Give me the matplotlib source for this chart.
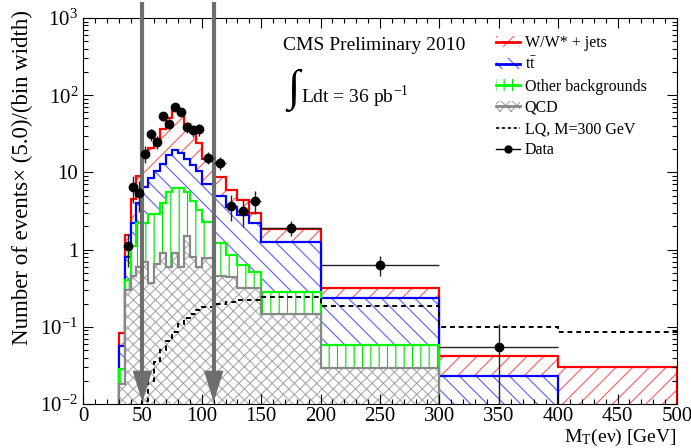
import numpy as np
import matplotlib
matplotlib.use("Agg")
import matplotlib.pyplot as plt
from matplotlib.patches import Patch
from matplotlib.lines import Line2D
from matplotlib.legend_handler import HandlerTuple
from matplotlib.ticker import MultipleLocator, LogLocator, FuncFormatter, NullFormatter

plt.rcParams['font.family'] = ['Liberation Serif', 'DejaVu Serif']
plt.rcParams['mathtext.fontset'] = 'stix'
plt.rcParams['hatch.linewidth'] = 0.8

# bin edges of the MT histogram [GeV]
edges = np.array([30, 35, 40, 45, 50, 55, 60, 65, 70, 75, 80, 85, 90, 95,
                  100, 110, 120, 130, 140, 150, 200, 300, 400, 500])

# stacked levels (events x 5/bin width)
w_jets = np.array([0.083, 1.55, 4.5, 9.0, 17, 21, 27, 36, 50, 62, 58, 43, 34, 24,
                   15, 8.6, 5.9, 4.4, 3.0, 1.87, 0.32, 0.042, 0.030])
ttbar = np.array([0.056, 0.8, 2.2, 4.0, 6.5, 8.5, 10.5, 13, 17, 19.5, 18, 15, 12.5, 10.3,
                  7.1, 5.0, 3.6, 2.8, 2.2, 1.27, 0.238, 0.0228, 0])
other_bkg = np.array([0.028, 0.41, 1.1, 2.2, 2.2, 2.9, 2.9, 4.0, 5.6, 6.2, 6.2, 5.5, 4.3, 3.3,
                      2.3, 1.2, 0.85, 0.64, 0.52, 0.28, 0.058, 0, 0])
qcd = np.array([0.018, 0.3, 0.45, 0.6, 0.7, 0.37, 0.65, 0.9, 0.6, 0.9, 0.6, 1.5, 0.8, 0.6,
                0.77, 0.45, 0.44, 0.32, 0.32, 0.148, 0.0297, 0, 0])
lq_300 = np.array([0, 0, 0, 0, 0.011, 0.02, 0.035, 0.05, 0.066, 0.085, 0.11, 0.13, 0.147, 0.165,
                   0.178, 0.2, 0.21, 0.22, 0.225, 0.24, 0.185, 0.1, 0.085])

# data points
data_x = [37.5, 42.5, 47.5, 52.5, 57.5, 62.5, 67.5, 72.5, 77.5, 82.5, 87.5, 92.5, 97.5,
          105, 115, 125, 135, 145, 175, 250, 350]
data_y = [1.1, 6.5, 5.4, 17.5, 31, 25, 53, 43, 70, 61, 39, 35, 36,
          15.5, 13.4, 3.7, 3.2, 4.3, 1.93, 0.64, 0.055]
data_yerr = [0.5, 2.5, 2.3, 4.2, 5.6, 5.0, 7.3, 6.6, 8.4, 7.8, 6.2, 5.9, 6.0,
             2.8, 2.6, 1.35, 1.25, 1.45, 0.44, 0.18, 0.054]
data_xerr = [2.5] * 13 + [5, 5, 5, 5, 5, 25, 50, 50]

cuts = [50, 110]

floor = 1e-4

fig = plt.figure(figsize=(6.91, 4.48), dpi=100)
ax = fig.add_axes([0.1201, 0.0982, 0.8596, 0.8616])
ax.set_yscale('log')

layers = [
    (w_jets, '#ff0000', '#ff5c5c', '//'),
    (ttbar, '#0000ff', '#5c5cff', '\\\\'),
    (other_bkg, '#00ff00', '#00dd00', '||'),
    (qcd, '#888888', '#aaaaaa', 'xxx'),
]
for i, (vals, line_c, hatch_c, hatch) in enumerate(layers):
    v = np.where(vals > 0, vals, floor)
    ax.stairs(v, edges, baseline=floor, fill=True, facecolor='white',
              edgecolor=hatch_c, hatch=hatch, linewidth=0, zorder=1 + i * 0.1)
    ax.stairs(v, edges, baseline=floor, fill=False, color=line_c,
              linewidth=1.6, zorder=1.05 + i * 0.1)

lq = np.where(lq_300 > 0, lq_300, floor)
ax.stairs(lq, edges, baseline=None, color='black', linewidth=1.4,
          linestyle=(0, (2.5, 2)), zorder=2)

# cut arrows
for c in cuts:
    ax.plot([c, c], [1600, 0.027], color='#6e6e6e', lw=3, zorder=3,
            clip_on=False, solid_capstyle='butt')
    ax.fill([c - 8.2, c + 8.2, c], [0.027, 0.027, 0.0105], color='#6e6e6e',
            zorder=3, lw=0)

ax.errorbar(data_x, data_y, yerr=data_yerr, xerr=data_xerr, fmt='o', color='black',
            ms=6, elinewidth=1, ecolor='#222222', capsize=0, zorder=5)

ax.set_xlim(0, 500)
ax.set_ylim(0.01, 1000)

ax.xaxis.set_major_locator(MultipleLocator(50))
ax.xaxis.set_minor_locator(MultipleLocator(10))
ax.yaxis.set_major_locator(LogLocator(base=10, numticks=10))
ax.yaxis.set_minor_locator(LogLocator(base=10, subs=np.arange(2, 10), numticks=20))
ax.yaxis.set_minor_formatter(NullFormatter())


def ylab(v, pos):
    if v == 1:
        return '1'
    if v == 10:
        return '10'
    return r'$\mathregular{10^{%d}}$' % int(round(np.log10(v)))


ax.yaxis.set_major_formatter(FuncFormatter(ylab))
ax.tick_params(which='both', direction='in', top=True, right=True, labelsize=15, width=0.8)
ax.tick_params(which='major', length=7)
ax.tick_params(which='minor', length=3.5)
ax.tick_params(axis='x', pad=2.5)
for s in ax.spines.values():
    s.set_linewidth(0.8)

ax.set_xlabel(r'M$_{\mathregular{T}}$(eν) [GeV]', fontsize=14, loc='right', labelpad=0)
fig.text(0.032, 0.978, 'Number of events× (5.0)/(bin width)', rotation=90,
         ha='center', va='top', fontsize=16.5)

ax.text(0.337, 0.930, 'CMS Preliminary 2010', transform=ax.transAxes,
        ha='left', va='center', fontsize=14)
ax.text(0.354, 0.813, '∫', transform=ax.transAxes, ha='center', va='center', fontsize=32)
ax.text(0.367, 0.795, r'Ldt = 36 pb$^{\mathregular{-1}}$', transform=ax.transAxes,
        ha='left', va='center', fontsize=14)

handles = [
    (Patch(facecolor='white', edgecolor='#ff5c5c', hatch='//', lw=0),
     Line2D([], [], color='#ff0000', lw=2)),
    (Patch(facecolor='white', edgecolor='#5c5cff', hatch='\\\\', lw=0),
     Line2D([], [], color='#0000ff', lw=2)),
    (Patch(facecolor='white', edgecolor='#00dd00', hatch='||', lw=0),
     Line2D([], [], color='#00ff00', lw=2)),
    (Patch(facecolor='white', edgecolor='#aaaaaa', hatch='xxx', lw=0),
     Line2D([], [], color='#888888', lw=2)),
    Line2D([], [], color='black', lw=1.2, linestyle=(0, (2, 1.5))),
    Line2D([], [], color='black', lw=1, marker='o', ms=5),
]
labels = ['W/W* + jets', r'$\mathregular{t\bar{t}}$', 'Other backgrounds', 'QCD',
          'LQ, M=300 GeV', 'Data']
ax.legend(handles, labels, handler_map={tuple: HandlerTuple(ndivide=1)},
          loc='upper left', bbox_to_anchor=(0.695, 0.955), frameon=False,
          fontsize=11.5, handlelength=1.5, handletextpad=0.3, labelspacing=0.33,
          borderpad=0, borderaxespad=0)

fig.savefig('out.png', dpi=100)
